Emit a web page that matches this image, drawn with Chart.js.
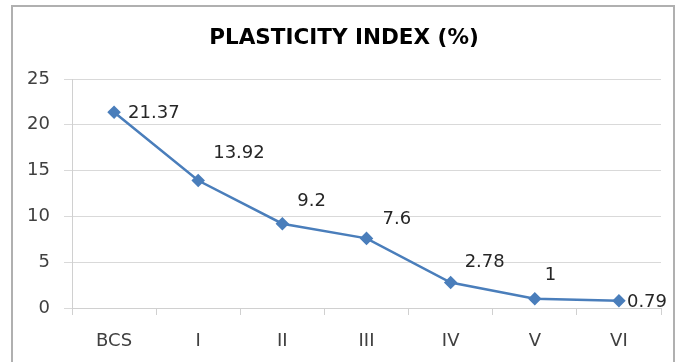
<!DOCTYPE html>
<html>
<head>
    <title></title>
    <script src="https://cdn.jsdelivr.net/npm/chart.js"></script>
    <style>
        html, body { margin: 0; padding: 0; background: #fff; }
        canvas { display: block; }
    </style>
</head>
<body>
    <canvas id="piChart" width="679" height="362"></canvas>

    <script>
        // data
        const categories = ['BCS', 'I', 'II', 'III', 'IV', 'V', 'VI'];
        const plasticityIndex = [21.37, 13.92, 9.2, 7.6, 2.78, 1, 0.79];
        const yTicks = [0, 5, 10, 15, 20, 25];
        const chartTitle = 'PLASTICITY INDEX (%)';

        const FONT = "'DejaVu Sans', 'Liberation Sans', sans-serif";

        // label nudges (px) – labels were placed by hand in the original
        const labelNudge = [[14, 1], [15, -27], [15, -22], [16, -19], [14, -20], [10, -24], [8, 2]];

        const frame = {
            id: 'frame',
            beforeDraw(chart) {
                const c = chart.ctx;
                c.save();
                c.fillStyle = '#fff';
                c.fillRect(0, 0, chart.width, chart.height);
                c.strokeStyle = '#b0b0b0';
                c.lineWidth = 2;
                c.strokeRect(12, 6, 662, 420);
                // title
                c.fillStyle = '#000';
                c.font = 'bold 21.5px ' + FONT;
                c.textAlign = 'center';
                c.textBaseline = 'middle';
                c.fillText(chartTitle, 344, 38);
                c.restore();
            }
        };

        const valueLabels = {
            id: 'valueLabels',
            afterDatasetsDraw(chart) {
                const c = chart.ctx;
                const meta = chart.getDatasetMeta(0);
                c.save();
                c.font = '18px ' + FONT;
                c.fillStyle = '#262626';
                c.textAlign = 'left';
                c.textBaseline = 'middle';
                meta.data.forEach((pt, i) => {
                    const n = labelNudge[i];
                    c.fillText(String(plasticityIndex[i]), pt.x + n[0], pt.y + n[1]);
                });
                c.restore();
            }
        };

        new Chart(document.getElementById('piChart'), {
            type: 'line',
            data: {
                labels: categories,
                datasets: [{
                    label: 'Plasticity Index',
                    data: plasticityIndex,
                    borderColor: '#4a7ebb',
                    backgroundColor: '#4a7ebb',
                    borderWidth: 2.5,
                    pointStyle: 'rectRot',
                    pointRadius: 5,
                    pointHoverRadius: 5,
                    tension: 0
                }]
            },
            options: {
                responsive: false,
                animation: false,
                devicePixelRatio: 1,
                layout: { padding: { left: 12, right: 18, top: 79, bottom: 0 } },
                plugins: {
                    legend: { display: false },
                    tooltip: { enabled: false },
                    title: { display: false }
                },
                scales: {
                    x: {
                        offset: true,
                        grid: {
                            offset: true,
                            drawOnChartArea: false,
                            color: '#d0d0d0',
                            tickLength: 7
                        },
                        border: { color: '#d0d0d0' },
                        ticks: {
                            color: '#404040',
                            font: { family: FONT, size: 18 },
                            padding: 16,
                            maxRotation: 0
                        },
                        afterFit(s) { s.height = 54; }
                    },
                    y: {
                        min: 0,
                        max: 25,
                        afterBuildTicks(s) { s.ticks = yTicks.map(v => ({ value: v })); },
                        grid: { color: '#d9d9d9', tickLength: 8 },
                        border: { color: '#d0d0d0' },
                        ticks: {
                            color: '#404040',
                            font: { family: FONT, size: 18 },
                            padding: 14
                        },
                        afterFit(s) { s.width = 60; }
                    }
                }
            },
            plugins: [frame, valueLabels]
        });
    </script>
</body>
</html>
